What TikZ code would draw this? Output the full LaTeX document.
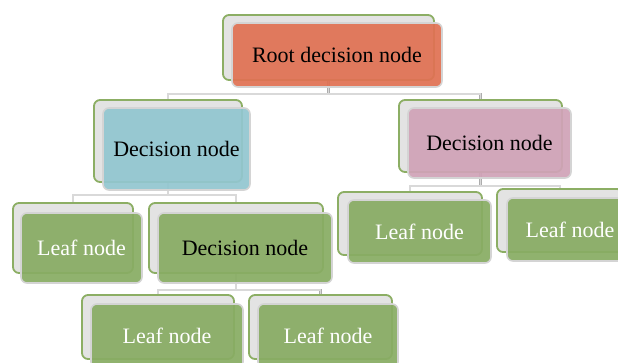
\documentclass[tikz,border=0pt]{standalone}
\usepackage{fontspec}
\setmainfont{Liberation Serif}
\definecolor{backfill}{HTML}{E3E3E3}
\definecolor{backline}{HTML}{8CAE64}
\definecolor{frontline}{HTML}{D4D4D4}
\definecolor{connline}{HTML}{ADADAD}
\definecolor{connin}{HTML}{D9D9D9}
\definecolor{rootcol}{HTML}{E07153}
\definecolor{bluecol}{HTML}{92C6D0}
\definecolor{pinkcol}{HTML}{D0A3B7}
\definecolor{greencol}{HTML}{88AC63}
\tikzset{
  backbox/.style={draw=backline, fill=backfill, line width=1.8pt, rounded corners=6pt, rectangle, inner sep=0pt},
  frontbox/.style={draw=frontline, line width=1.6pt, rounded corners=6pt, rectangle, inner sep=0pt, fill opacity=0.93, text opacity=1, font=\fontsize{22}{26}\selectfont},
  conn/.style={draw=connline, line width=0.7pt, double=connin, double distance=1.1pt},
}
\begin{document}
\begin{tikzpicture}[x=1pt,y=-1pt]
\useasboundingbox (0,0) rectangle (618,362);
\clip (0,0) rectangle (618,362);
% horizontal levels
\coordinate (h0) at (0,94);
\coordinate (h1) at (0,195);
\coordinate (h2) at (0,186);
\coordinate (h3) at (0,290);
% back boxes
\node[backbox, minimum width=211, minimum height=65] (rootb) at (328.5,47.5) {};
\node[backbox, minimum width=148, minimum height=82] (d1b) at (168,141) {};
\node[backbox, minimum width=163, minimum height=72] (d2b) at (480.5,136) {};
\node[backbox, minimum width=120, minimum height=70] (l1b) at (73,238) {};
\node[backbox, minimum width=174, minimum height=70] (d3b) at (236,238) {};
\node[backbox, minimum width=152, minimum height=64] (l3b) at (158,327) {};
\node[backbox, minimum width=143, minimum height=64] (l4b) at (320.5,327) {};
\node[backbox, minimum width=144, minimum height=63] (l5b) at (410,223.5) {};
\node[backbox, minimum width=126, minimum height=63] (l6b) at (560,220.5) {};
% connectors
\draw[conn] (rootb.south) -- (rootb.south |- h0) -| (d1b.north);
\draw[conn] (rootb.south |- h0) -| (d2b.north);
\draw[conn] (d1b.south) -- (d1b.south |- h1) -| (l1b.north);
\draw[conn] (d1b.south |- h1) -| (d3b.north);
\draw[conn] (d2b.south) -- (d2b.south |- h2) -| (l5b.north);
\draw[conn] (d2b.south |- h2) -| (l6b.north);
\draw[conn] (d3b.south) -- (d3b.south |- h3) -| (l3b.north);
\draw[conn] (d3b.south |- h3) -| (l4b.north);
% front boxes
\node[frontbox, fill=rootcol, minimum width=210, minimum height=64] (root) at (337,55) {Root decision node};
\node[frontbox, fill=bluecol, minimum width=147, minimum height=82] (d1) at (176.5,149) {Decision node};
\node[frontbox, fill=pinkcol, minimum width=163, minimum height=70] (d2) at (489.5,143) {Decision node};
\node[frontbox, fill=greencol, text=white, minimum width=121, minimum height=70] (l1) at (81.5,248) {Leaf node};
\node[frontbox, fill=greencol, minimum width=174, minimum height=70] (d3) at (245,248) {Decision node};
\node[frontbox, fill=greencol, text=white, minimum width=152, minimum height=64] (l3) at (167,336) {Leaf node};
\node[frontbox, fill=greencol, text=white, minimum width=140, minimum height=64] (l4) at (328,336) {Leaf node};
\node[frontbox, fill=greencol, text=white, minimum width=143, minimum height=63] (l5) at (419.5,231.5) {Leaf node};
\node[frontbox, fill=greencol, text=white, minimum width=126, minimum height=63] (l6) at (570,229.5) {Leaf node};
\end{tikzpicture}
\end{document}
